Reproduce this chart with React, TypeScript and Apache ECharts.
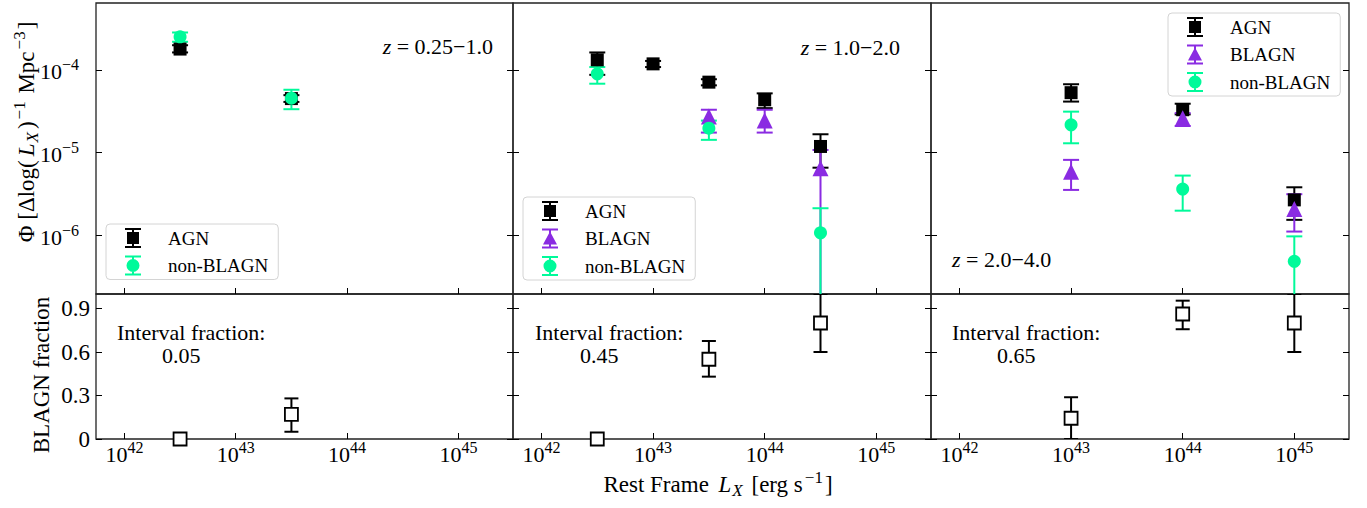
import React, { useEffect, useRef } from 'react';
import * as echarts from 'echarts';

const FONT = '"Liberation Serif", "Times New Roman", serif';
const BLACK = '#000000';
const PURPLE = '#8a2be2';
const GREEN = '#00fa9a';

// ---------- data (x values are log10 of rest-frame L_X) ----------
// Panel 1: z = 0.25-1.0
const logL1 = [42.5, 43.5];
const agnPhi1 = [1.78e-4, 4.5e-5];
const agnLo1 = [1.62e-4, 4.1e-5];
const agnHi1 = [1.98e-4, 4.95e-5];
const nonPhi1 = [2.5e-4, 4.55e-5];
const nonLo1 = [2.18e-4, 3.35e-5];
const nonHi1 = [2.82e-4, 5.75e-5];
const frac1 = [0, 0.17];
const fracLo1 = [0, 0.05];
const fracHi1 = [0, 0.28];

// Panel 2: z = 1.0-2.0
const logLAgn2 = [42.5, 43.0, 43.5, 44.0, 44.5];
const agnPhi2 = [1.32e-4, 1.18e-4, 7.1e-5, 4.35e-5, 1.19e-5];
const agnLo2 = [8.7e-5, 1.08e-4, 6.5e-5, 3.45e-5, 6.6e-6];
const agnHi2 = [1.62e-4, 1.28e-4, 7.7e-5, 5.2e-5, 1.67e-5];
const logLBl2 = [43.5, 44.0, 44.5];
const blPhi2 = [2.73e-5, 2.45e-5, 6.5e-6];
const blLo2 = [1.75e-5, 1.75e-5, 0];
const blHi2 = [3.3e-5, 3.3e-5, 1.08e-5];
const logLNon2 = [42.5, 43.5, 44.5];
const nonPhi2 = [8.95e-5, 1.98e-5, 1.08e-6];
const nonLo2 = [6.8e-5, 1.43e-5, 0];
const nonHi2 = [1.08e-4, 2.44e-5, 2.14e-6];
const logLFrac2 = [42.5, 43.5, 44.5];
const frac2 = [0, 0.55, 0.8];
const fracLo2 = [0, 0.43, 0.6];
const fracHi2 = [0, 0.676, 1.0];

// Panel 3: z = 2.0-4.0
const logL3 = [43.0, 44.0, 45.0];
const agnPhi3 = [5.3e-5, 3.3e-5, 2.7e-6];
const agnLo3 = [4.14e-5, 2.9e-5, 1.55e-6];
const agnHi3 = [6.7e-5, 3.9e-5, 3.83e-6];
const blPhi3 = [5.9e-6, 2.6e-5, 2.1e-6];
const blLo3 = [3.56e-6, 2.1e-5, 1.12e-6];
const blHi3 = [8.2e-6, 3.0e-5, 3.16e-6];
const nonPhi3 = [2.17e-5, 3.65e-6, 4.9e-7];
const nonLo3 = [1.3e-5, 2.0e-6, 0];
const nonHi3 = [3.13e-5, 5.3e-6, 9.8e-7];
const frac3 = [0.143, 0.862, 0.8];
const fracLo3 = [0, 0.757, 0.6];
const fracHi3 = [0.288, 0.954, 1.0];

const xTicks = [42, 43, 44, 45];
const phiTicks = [-6, -5, -4];
const fracTicks = [0, 0.3, 0.6, 0.9];
const fracTickLabels = ['0', '0.3', '0.6', '0.9'];
const zLabels = ['0.25\u22121.0', '1.0\u22122.0', '2.0\u22124.0'];
const intervalFractions = ['0.05', '0.45', '0.65'];

// ---------- axis ranges ----------
const X_MIN = 41.745;
const X_MAX = 45.49;
const PHI_MIN = -6.704;
const PHI_MAX = -3.194;

const COLS = [
  [96, 417],
  [513, 418],
  [931, 418],
];

const ICON_AGN = 'path://M0,0H16V2H9V18H16V20H0V18H7V2H0Z M2,4H14V16H2Z';
const ICON_BL = 'path://M0,0H16V2H9V18H16V20H0V18H7V2H0Z M8,3L15,16H1Z';
const ICON_NON =
  'path://M0,0H16V2H9V18H16V20H0V18H7V2H0Z M1.5,10A6.5,6.5 0 1,1 14.5,10A6.5,6.5 0 1,1 1.5,10Z';

const tickRich = {
  base: { fontFamily: FONT, fontSize: 22, fill: '#000', lineHeight: 26, verticalAlign: 'bottom' },
  sup: { fontFamily: FONT, fontSize: 16, fill: '#000', lineHeight: 16, verticalAlign: 'top' },
};

function errRender(color: string, capW: number) {
  return (params: any, api: any) => {
    const x = api.value(0);
    const pLo = api.coord([x, api.value(1)]);
    const pHi = api.coord([x, api.value(2)]);
    const style = { stroke: color, lineWidth: 2, fill: 'none' };
    return {
      type: 'group',
      children: [
        { type: 'line', shape: { x1: pLo[0], y1: pLo[1], x2: pHi[0], y2: pHi[1] }, style },
        { type: 'line', shape: { x1: pLo[0] - capW / 2, y1: pLo[1], x2: pLo[0] + capW / 2, y2: pLo[1] }, style },
        { type: 'line', shape: { x1: pHi[0] - capW / 2, y1: pHi[1], x2: pHi[0] + capW / 2, y2: pHi[1] }, style },
      ],
    };
  };
}

const toLog = (v: number) => (v > 0 ? Math.log10(v) : PHI_MIN - 2);

function phiGroup(
  grid: number,
  name: string,
  xs: number[],
  ys: number[],
  lo: number[],
  hi: number[],
  color: string,
  symbol: string,
  size: number
) {
  return [
    {
      type: 'custom',
      name: name + ' err',
      xAxisIndex: grid,
      yAxisIndex: grid,
      clip: true,
      silent: true,
      itemStyle: { color },
      renderItem: errRender(color, 16),
      data: xs.map((x, k) => [x, toLog(lo[k]), toLog(hi[k])]),
      encode: { x: 0, y: [1, 2] },
    },
    {
      type: 'scatter',
      name,
      xAxisIndex: grid,
      yAxisIndex: grid,
      symbol,
      symbolSize: size,
      silent: true,
      clip: false,
      itemStyle: { color, opacity: 1 },
      emphasis: { disabled: true },
      data: xs.map((x, k) => [x, Math.log10(ys[k])]),
    },
  ];
}

function fracGroup(grid: number, xs: number[], f: number[], lo: number[], hi: number[]) {
  const errData: number[][] = [];
  xs.forEach((x, k) => {
    if (hi[k] > lo[k]) errData.push([x, lo[k], hi[k]]);
  });
  return [
    {
      type: 'custom',
      name: 'fraction err',
      xAxisIndex: grid,
      yAxisIndex: grid,
      clip: true,
      silent: true,
      itemStyle: { color: BLACK },
      renderItem: errRender(BLACK, 14),
      data: errData,
      encode: { x: 0, y: [1, 2] },
    },
    {
      type: 'scatter',
      name: 'BLAGN fraction',
      xAxisIndex: grid,
      yAxisIndex: grid,
      symbol: 'rect',
      symbolSize: 13,
      silent: true,
      clip: false,
      itemStyle: { color: '#ffffff', borderColor: BLACK, borderWidth: 1.8, opacity: 1 },
      emphasis: { disabled: true },
      data: xs.map((x, k) => [x, f[k]]),
    },
  ];
}

export default function App() {
  const ref = useRef<HTMLDivElement>(null);

  useEffect(() => {
    if (!ref.current) return;
    const chart = echarts.init(ref.current, undefined, { renderer: 'svg' });

    const grids: any[] = [];
    const xAxes: any[] = [];
    const yAxes: any[] = [];
    for (let r = 0; r < 2; r++) {
      for (let c = 0; c < 3; c++) {
        const [left, width] = COLS[c];
        const top = r === 0 ? 3 : 294;
        const height = r === 0 ? 291 : 145;
        grids.push({
          left,
          top,
          width,
          height,
          containLabel: false,
          outerBoundsMode: 'none',
          show: true,
          borderColor: '#222',
          borderWidth: 1.3,
          backgroundColor: 'transparent',
        });
      }
    }
    for (let i = 0; i < 6; i++) {
      xAxes.push({
        type: 'value',
        gridIndex: i,
        min: X_MIN,
        max: X_MAX,
        axisLine: { show: false },
        splitLine: { show: false },
        axisTick: { show: true, inside: true, length: 6, customValues: xTicks, lineStyle: { color: '#000', width: 1 } },
        axisLabel: { show: false },
      });
    }
    for (let side = 0; side < 2; side++) {
      for (let i = 0; i < 6; i++) {
        const bottomRow = i >= 3;
        const ticks = bottomRow ? fracTicks : phiTicks;
        yAxes.push({
          type: 'value',
          gridIndex: i,
          position: side === 0 ? 'left' : 'right',
          min: bottomRow ? 0 : PHI_MIN,
          max: bottomRow ? 1 : PHI_MAX,
          axisLine: { show: false },
          splitLine: { show: false },
          axisTick: { show: true, inside: true, length: 6, customValues: ticks, lineStyle: { color: '#000', width: 1 } },
          axisLabel: { show: false },
        });
      }
    }

    const series: any[] = [
      ...phiGroup(0, 'AGN', logL1, agnPhi1, agnLo1, agnHi1, BLACK, 'rect', 13),
      ...phiGroup(0, 'non-BLAGN', logL1, nonPhi1, nonLo1, nonHi1, GREEN, 'circle', 13),
      ...phiGroup(1, 'AGN', logLAgn2, agnPhi2, agnLo2, agnHi2, BLACK, 'rect', 13),
      ...phiGroup(1, 'BLAGN', logLBl2, blPhi2, blLo2, blHi2, PURPLE, 'triangle', 16),
      ...phiGroup(1, 'non-BLAGN', logLNon2, nonPhi2, nonLo2, nonHi2, GREEN, 'circle', 13),
      ...phiGroup(2, 'AGN', logL3, agnPhi3, agnLo3, agnHi3, BLACK, 'rect', 13),
      ...phiGroup(2, 'BLAGN', logL3, blPhi3, blLo3, blHi3, PURPLE, 'triangle', 16),
      ...phiGroup(2, 'non-BLAGN', logL3, nonPhi3, nonLo3, nonHi3, GREEN, 'circle', 13),
      ...fracGroup(3, logL1, frac1, fracLo1, fracHi1),
      ...fracGroup(4, logLFrac2, frac2, fracLo2, fracHi2),
      ...fracGroup(5, logL3, frac3, fracLo3, fracHi3),
    ];

    const legendBase = {
      orient: 'vertical',
      itemWidth: 16,
      itemHeight: 20,
      itemGap: 7.5,
      selectedMode: false,
      backgroundColor: 'rgba(255,255,255,0.8)',
      borderColor: '#d4d4d4',
      borderWidth: 1,
      borderRadius: 4,
      textStyle: { fontFamily: FONT, fontSize: 19, color: '#000', padding: [0, 0, 0, 22] },
    };
    const legends = [
      {
        ...legendBase,
        left: 106,
        top: 224,
        padding: [4, 10, 4, 19],
        data: [
          { name: 'AGN', icon: ICON_AGN },
          { name: 'non-BLAGN', icon: ICON_NON },
        ],
      },
      {
        ...legendBase,
        left: 523,
        top: 197,
        padding: [4, 10, 4, 19],
        data: [
          { name: 'AGN', icon: ICON_AGN },
          { name: 'BLAGN', icon: ICON_BL },
          { name: 'non-BLAGN', icon: ICON_NON },
        ],
      },
      {
        ...legendBase,
        left: 1168,
        top: 13,
        padding: [4, 10, 4, 19],
        data: [
          { name: 'AGN', icon: ICON_AGN },
          { name: 'BLAGN', icon: ICON_BL },
          { name: 'non-BLAGN', icon: ICON_NON },
        ],
      },
    ];

    chart.setOption({
      animation: false,
      backgroundColor: '#ffffff',
      grid: grids,
      xAxis: xAxes,
      yAxis: yAxes,
      legend: legends,
      series,
    });

    // ----- texts (tick labels placed through the axes' own scales) -----
    const annRich = {
      i: { fontFamily: FONT, fontSize: 22, fontStyle: 'italic', fill: '#000' },
      n: { fontFamily: FONT, fontSize: 22, fill: '#000' },
    };
    const titleRich = {
      n: { fontFamily: FONT, fontSize: 23, fill: '#000', lineHeight: 30, verticalAlign: 'middle' },
      i: { fontFamily: FONT, fontSize: 23, fontStyle: 'italic', fill: '#000', lineHeight: 30, verticalAlign: 'middle', padding: [0, 1, 0, 4] },
      sup: { fontFamily: FONT, fontSize: 17, fill: '#000', lineHeight: 16, verticalAlign: 'top', padding: [0, 2, 0, 2] },
      sub: { fontFamily: FONT, fontSize: 17, fontStyle: 'italic', fill: '#000', lineHeight: 16, verticalAlign: 'bottom', padding: [0, 3, 0, 0] },
    };
    const plain = { fontFamily: FONT, fontSize: 22, fill: '#000' };

    const graphic: any[] = [];
    // x tick labels (bottom row)
    for (let g = 3; g < 6; g++) {
      const gridBottom = chart.convertToPixel({ yAxisIndex: g }, 0) as number;
      xTicks.forEach((t) => {
        const px = chart.convertToPixel({ xAxisIndex: g }, t) as number;
        graphic.push({
          type: 'text',
          x: px,
          y: gridBottom,
          silent: true,
          style: { text: `{base|10}{sup|${t}}`, rich: tickRich, align: 'center', verticalAlign: 'top' },
        });
      });
    }
    // y tick labels, top-left panel
    phiTicks.forEach((t) => {
      const py = chart.convertToPixel({ yAxisIndex: 0 }, t) as number;
      graphic.push({
        type: 'text',
        x: COLS[0][0] - 17,
        y: py,
        silent: true,
        style: { text: `{base|10}{sup|\u2212${-t}}`, rich: tickRich, align: 'right', verticalAlign: 'middle' },
      });
    });
    // y tick labels, bottom-left panel
    fracTicks.forEach((t, k) => {
      const py = chart.convertToPixel({ yAxisIndex: 3 }, t) as number;
      graphic.push({
        type: 'text',
        x: COLS[0][0] - 6,
        y: py,
        silent: true,
        style: { ...plain, fontSize: 23, text: fracTickLabels[k], align: 'right', verticalAlign: 'middle' },
      });
    });

    graphic.push(
      { type: 'text', x: 493, y: 46.5, silent: true, style: { text: `{i|z}{n| = ${zLabels[0]}}`, rich: annRich, align: 'right', verticalAlign: 'middle' } },
      { type: 'text', x: 900, y: 47, silent: true, style: { text: `{i|z}{n| = ${zLabels[1]}}`, rich: annRich, align: 'right', verticalAlign: 'middle' } },
      { type: 'text', x: 952, y: 259, silent: true, style: { text: `{i|z}{n| = ${zLabels[2]}}`, rich: annRich, align: 'left', verticalAlign: 'middle' } }
    );
    const fracLefts = [117, 535, 952];
    fracLefts.forEach((lx, k) => {
      graphic.push({ type: 'text', x: lx, y: 332, silent: true, style: { ...plain, text: 'Interval fraction:', align: 'left', verticalAlign: 'middle' } });
      graphic.push({ type: 'text', x: lx + 45, y: 355, silent: true, style: { ...plain, text: intervalFractions[k], align: 'left', verticalAlign: 'middle' } });
    });
    graphic.push({
      type: 'text',
      x: 26,
      y: 132,
      rotation: Math.PI / 2,
      silent: true,
      style: {
        text: '{n|\u03a6 [\u0394log(}{i|L}{sub|X}{n|)}{sup|\u22121}{n| Mpc}{sup|\u22123}{n|]}',
        rich: titleRich,
        align: 'center',
        verticalAlign: 'middle',
      },
    });
    graphic.push({
      type: 'text',
      x: 41,
      y: 375,
      rotation: Math.PI / 2,
      silent: true,
      style: { ...plain, fontSize: 23, text: 'BLAGN fraction', align: 'center', verticalAlign: 'middle' },
    });
    graphic.push({
      type: 'text',
      x: 718,
      y: 484,
      silent: true,
      style: {
        text: '{n|Rest Frame }{i|L}{sub|X}{n| [erg s}{sup|\u22121}{n|]}',
        rich: titleRich,
        align: 'center',
        verticalAlign: 'middle',
      },
    });

    chart.setOption({ graphic });

    return () => {
      chart.dispose();
    };
  }, []);

  return (
    <div
      ref={ref}
      style={{ position: 'fixed', left: 0, top: 0, width: 1367, height: 508, background: '#fff' }}
    />
  );
}
